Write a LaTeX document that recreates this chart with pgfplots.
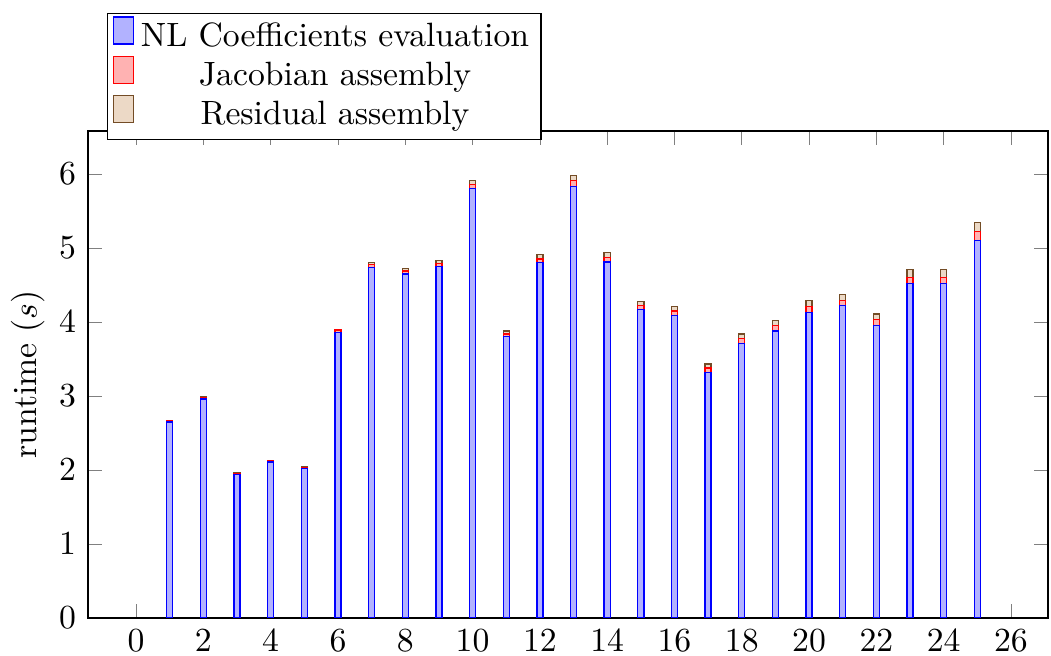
\documentclass[border=0pt]{standalone}
\usepackage{pgfplots}
\pgfplotsset{compat=1.18}
\begin{document}
\begin{tikzpicture}
\useasboundingbox (-26.1pt,-11pt) rectangle (285.8pt,183.4pt);
\begin{axis}[
    scale only axis,
    width=284.9pt, height=144.5pt,
    at={(0pt,0pt)}, anchor=south west,
    ybar stacked,
    bar width=0.18,
    xmin=-1.43, xmax=27.1,
    ymin=0, ymax=6.58,
    xtick distance=2,
    ytick distance=1,
    ylabel={runtime ($s$)},
    ylabel shift=-2.7pt,
    legend style={at={(0.0198,0.9815)}, anchor=south west, cells={anchor=center},
        inner ysep=0.8pt, inner xsep=1.5pt, row sep=-0.8pt},
]
\addplot coordinates {(1,2.65) (2,2.96) (3,1.94) (4,2.11) (5,2.02) (6,3.86) (7,4.74) (8,4.65) (9,4.75) (10,5.80) (11,3.80) (12,4.80) (13,5.83) (14,4.81) (15,4.17) (16,4.09) (17,3.32) (18,3.71) (19,3.88) (20,4.13) (21,4.22) (22,3.95) (23,4.52) (24,4.52) (25,5.10)};
\addplot coordinates {(1,0.01) (2,0.015) (3,0.01) (4,0.015) (5,0.015) (6,0.03) (7,0.04) (8,0.04) (9,0.04) (10,0.06) (11,0.04) (12,0.05) (13,0.08) (14,0.06) (15,0.05) (16,0.06) (17,0.06) (18,0.07) (19,0.07) (20,0.08) (21,0.07) (22,0.08) (23,0.08) (24,0.08) (25,0.12)};
\addplot coordinates {(1,0.005) (2,0.01) (3,0.01) (4,0.005) (5,0.005) (6,0.01) (7,0.02) (8,0.03) (9,0.04) (10,0.05) (11,0.04) (12,0.06) (13,0.07) (14,0.07) (15,0.06) (16,0.06) (17,0.05) (18,0.06) (19,0.07) (20,0.08) (21,0.08) (22,0.08) (23,0.11) (24,0.11) (25,0.12)};
\legend{NL Coefficients evaluation, Jacobian assembly, Residual assembly}
\end{axis}
\end{tikzpicture}
\end{document}
